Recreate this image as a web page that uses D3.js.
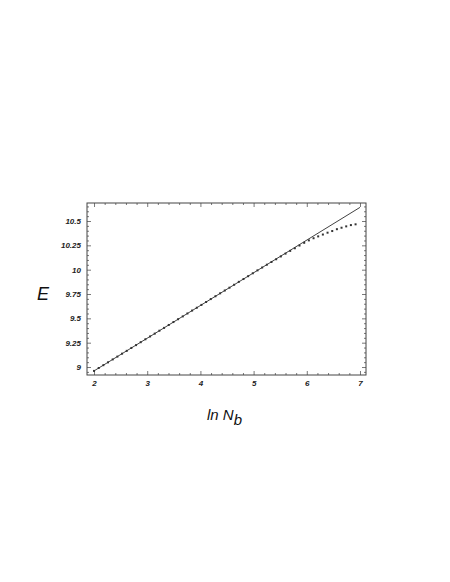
<!DOCTYPE html>
<html><head><meta charset="utf-8">
<script src="https://cdn.jsdelivr.net/npm/d3@7"></script>
<style>body{margin:0;background:#fff}</style>
</head><body>
<script>
const xTicks = [2, 3, 4, 5, 6, 7];
const yTicks = [9, 9.25, 9.5, 9.75, 10, 10.25, 10.5];
const fitX = [2, 7];
const fitY = [8.96, 10.64];
const dataX = [2.000,2.088,2.176,2.263,2.351,2.439,2.527,2.615,2.702,2.790,2.878,2.966,3.054,3.141,3.229,3.317,3.405,3.493,3.580,3.668,3.756,3.844,3.932,4.019,4.107,4.195,4.283,4.371,4.458,4.546,4.634,4.722,4.810,4.897,4.985,5.073,5.161,5.249,5.336,5.424,5.512,5.600,5.688,5.775,5.863,5.951,6.039,6.127,6.214,6.302,6.390,6.478,6.566,6.653,6.741,6.829,6.917];
const dataY = [8.960,8.990,9.019,9.048,9.078,9.107,9.137,9.166,9.196,9.225,9.255,9.285,9.314,9.343,9.373,9.402,9.432,9.462,9.491,9.520,9.550,9.580,9.609,9.638,9.668,9.698,9.727,9.757,9.786,9.815,9.845,9.875,9.904,9.933,9.963,9.993,10.022,10.051,10.079,10.107,10.136,10.165,10.193,10.220,10.248,10.276,10.301,10.323,10.342,10.361,10.380,10.397,10.416,10.431,10.445,10.458,10.466];

const W = 450, H = 582;
const L = 87, R = 366, T = 203, B = 375;
const svg = d3.select("body").append("svg").attr("width", W).attr("height", H);
const x = d3.scaleLinear().domain([1.868, 7.113]).range([L, R]);
const y = d3.scaleLinear().domain([8.918, 10.685]).range([B, T]);

const xMinor = d3.range(1.8, 7.15, 0.2).filter(v => v >= 1.868 && v <= 7.113 && Math.abs(v - Math.round(v)) > 1e-6);
const yMinor = d3.range(8.95, 10.70, 0.05).filter(v => v >= 8.918 && v <= 10.685 && Math.abs(v*4 - Math.round(v*4)) > 1e-6);

const tickCol = "#555";
function styleAxis(g){ g.select(".domain").remove(); g.selectAll("line").attr("stroke", tickCol).attr("stroke-width", 0.8); }
const fontFam = "'Liberation Sans', Arial, sans-serif";
function styleLabels(g){ g.selectAll("text").attr("font-family", fontFam).attr("font-size", 8).attr("font-style", "italic").attr("font-weight", "bold").attr("fill", "#222"); }

// bottom
svg.append("g").attr("transform", `translate(0,${B})`)
  .call(d3.axisBottom(x).tickValues(xTicks).tickSizeInner(-4).tickSizeOuter(0).tickPadding(5).tickFormat(d => String(d)))
  .call(styleAxis).call(styleLabels);
svg.append("g").attr("transform", `translate(0,${B})`)
  .call(d3.axisBottom(x).tickValues(xMinor).tickSizeInner(-2).tickSizeOuter(0).tickFormat(""))
  .call(styleAxis);
// top
svg.append("g").attr("transform", `translate(0,${T})`)
  .call(d3.axisTop(x).tickValues(xTicks).tickSizeInner(-4).tickSizeOuter(0).tickFormat(""))
  .call(styleAxis);
svg.append("g").attr("transform", `translate(0,${T})`)
  .call(d3.axisTop(x).tickValues(xMinor).tickSizeInner(-2).tickSizeOuter(0).tickFormat(""))
  .call(styleAxis);
// left
svg.append("g").attr("transform", `translate(${L},0)`)
  .call(d3.axisLeft(y).tickValues(yTicks).tickSizeInner(-4).tickSizeOuter(0).tickPadding(6).tickFormat(d => String(d)))
  .call(styleAxis).call(styleLabels);
svg.append("g").attr("transform", `translate(${L},0)`)
  .call(d3.axisLeft(y).tickValues(yMinor).tickSizeInner(-2).tickSizeOuter(0).tickFormat(""))
  .call(styleAxis);
// right
svg.append("g").attr("transform", `translate(${R},0)`)
  .call(d3.axisRight(y).tickValues(yTicks).tickSizeInner(-4).tickSizeOuter(0).tickFormat(""))
  .call(styleAxis);
svg.append("g").attr("transform", `translate(${R},0)`)
  .call(d3.axisRight(y).tickValues(yMinor).tickSizeInner(-2).tickSizeOuter(0).tickFormat(""))
  .call(styleAxis);

// frame
svg.append("rect").attr("x", L).attr("y", T).attr("width", R - L).attr("height", B - T)
  .attr("fill", "none").attr("stroke", "#444").attr("stroke-width", 1);

// fit line
svg.append("path")
  .datum(fitX.map((v, i) => [v, fitY[i]]))
  .attr("d", d3.line().x(d => x(d[0])).y(d => y(d[1])))
  .attr("fill", "none").attr("stroke", "#111").attr("stroke-width", 0.8);

// data points
svg.append("g").selectAll("rect")
  .data(dataX.map((v, i) => [v, dataY[i]]))
  .join("rect")
  .attr("x", d => x(d[0]) - 1).attr("y", d => y(d[1]) - 1)
  .attr("width", 2).attr("height", 2).attr("fill", "#333");

// axis titles
svg.append("text").attr("x", 43).attr("y", 300).attr("text-anchor", "middle")
  .attr("font-family", fontFam).attr("font-size", 18).attr("font-style", "italic").attr("fill", "#111").text("E");
const xt = svg.append("text").attr("x", 207).attr("y", 420)
  .attr("font-family", fontFam).attr("font-size", 15).attr("font-style", "italic").attr("fill", "#111");
xt.append("tspan").text("ln N");
xt.append("tspan").attr("dy", 5).attr("font-size", 15).text("b");
</script>
</body></html>
